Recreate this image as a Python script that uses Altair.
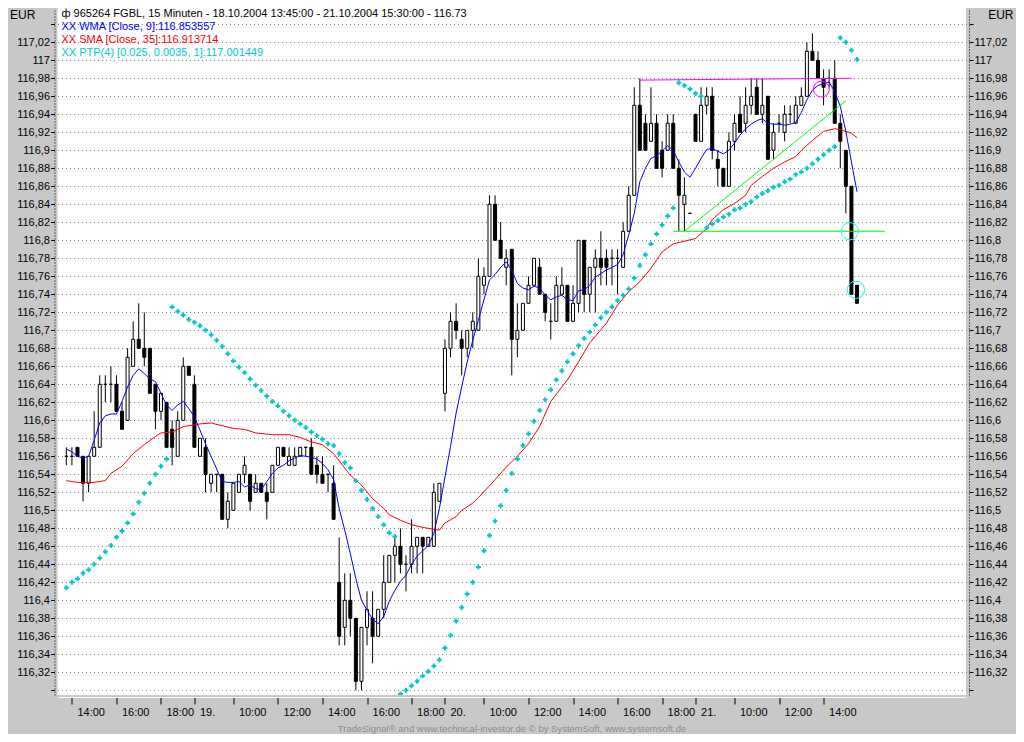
import altair as alt
import pandas as pd

# ---------------- data ----------------
bar_open = [116.56, 116.56, 116.57, 116.56, 116.53, 116.56, 116.57, 116.64, 116.64, 116.64,
            116.61, 116.60, 116.66, 116.69, 116.68, 116.68, 116.64, 116.61, 116.62, 116.59,
            116.56, 116.60, 116.66, 116.64, 116.56, 116.57, 116.53, 116.54, 116.54, 116.49,
            116.50, 116.52, 116.54, 116.54, 116.52, 116.53, 116.52, 116.52, 116.55, 116.57,
            116.55, 116.55, 116.56, 116.57, 116.57, 116.55, 116.54, 116.54, 116.53, 116.42,
            116.37, 116.40, 116.38, 116.31, 116.37, 116.38, 116.36, 116.39, 116.42, 116.45,
            116.46, 116.44, 116.44, 116.46, 116.47, 116.46, 116.46, 116.51, 116.63, 116.68,
            116.71, 116.69, 116.68, 116.70, 116.70, 116.75, 116.76, 116.84, 116.80, 116.77,
            116.79, 116.69, 116.70, 116.73, 116.75, 116.77, 116.74, 116.71, 116.71, 116.74,
            116.75, 116.71, 116.73, 116.80, 116.74, 116.77, 116.78, 116.78, 116.78, 116.78,
            116.77, 116.81, 116.85, 116.95, 116.93, 116.91, 116.93, 116.90, 116.90, 116.93,
            116.88, 116.84, 116.83, 116.94, 116.91, 116.95, 116.96, 116.89, 116.88, 116.86,
            116.91, 116.94, 116.93, 116.95, 116.97, 116.94, 116.96, 116.90, 116.93, 116.92,
            116.94, 116.93, 116.95, 116.96, 117.01, 117.00, 116.98, 116.98, 116.98, 116.93,
            116.90, 116.86, 116.75]
bar_high = [116.57, 116.57, 116.57, 116.56, 116.56, 116.61, 116.65, 116.65, 116.66, 116.65,
            116.62, 116.68, 116.71, 116.73, 116.72, 116.68, 116.64, 116.63, 116.62, 116.60,
            116.61, 116.67, 116.66, 116.65, 116.58, 116.58, 116.54, 116.54, 116.54, 116.52,
            116.53, 116.54, 116.56, 116.54, 116.54, 116.53, 116.53, 116.55, 116.57, 116.57,
            116.57, 116.57, 116.57, 116.57, 116.58, 116.56, 116.56, 116.54, 116.55, 116.47,
            116.43, 116.43, 116.38, 116.37, 116.41, 116.41, 116.39, 116.45, 116.45, 116.47,
            116.48, 116.45, 116.49, 116.47, 116.47, 116.47, 116.53, 116.53, 116.69, 116.72,
            116.73, 116.70, 116.70, 116.72, 116.78, 116.77, 116.85, 116.85, 116.82, 116.79,
            116.79, 116.73, 116.73, 116.76, 116.78, 116.78, 116.74, 116.73, 116.76, 116.77,
            116.75, 116.75, 116.80, 116.80, 116.77, 116.79, 116.81, 116.79, 116.79, 116.79,
            116.82, 116.86, 116.97, 116.98, 116.94, 116.97, 116.94, 116.91, 116.94, 116.94,
            116.89, 116.87, 116.83, 116.94, 116.97, 116.97, 116.97, 116.90, 116.88, 116.92,
            116.94, 116.96, 116.97, 116.98, 116.98, 116.98, 116.96, 116.93, 116.94, 116.95,
            116.95, 116.96, 116.97, 117.02, 117.03, 117.01, 116.99, 116.99, 117.00, 116.94,
            116.90, 116.86, 116.75]
bar_low = [116.55, 116.55, 116.56, 116.51, 116.52, 116.56, 116.57, 116.62, 116.62, 116.61,
           116.59, 116.60, 116.66, 116.68, 116.66, 116.63, 116.59, 116.60, 116.57, 116.55,
           116.56, 116.60, 116.65, 116.57, 116.56, 116.52, 116.52, 116.52, 116.49, 116.48,
           116.50, 116.52, 116.53, 116.50, 116.52, 116.52, 116.49, 116.52, 116.55, 116.56,
           116.55, 116.55, 116.56, 116.56, 116.54, 116.53, 116.53, 116.52, 116.49, 116.35,
           116.35, 116.36, 116.30, 116.30, 116.35, 116.33, 116.36, 116.38, 116.42, 116.42,
           116.43, 116.41, 116.43, 116.43, 116.43, 116.46, 116.46, 116.51, 116.61, 116.67,
           116.69, 116.65, 116.67, 116.68, 116.70, 116.74, 116.76, 116.80, 116.78, 116.75,
           116.65, 116.67, 116.70, 116.73, 116.75, 116.74, 116.71, 116.69, 116.71, 116.74,
           116.71, 116.71, 116.72, 116.72, 116.72, 116.72, 116.75, 116.75, 116.75, 116.74,
           116.77, 116.81, 116.85, 116.90, 116.90, 116.91, 116.88, 116.87, 116.90, 116.88,
           116.81, 116.81, 116.83, 116.91, 116.91, 116.94, 116.89, 116.86, 116.86, 116.86,
           116.90, 116.92, 116.92, 116.94, 116.94, 116.93, 116.89, 116.89, 116.92, 116.91,
           116.93, 116.93, 116.95, 116.96, 117.00, 116.98, 116.95, 116.97, 116.93, 116.88,
           116.83, 116.74, 116.73]
bar_close = [116.56, 116.56, 116.56, 116.53, 116.56, 116.57, 116.64, 116.64, 116.64, 116.61,
             116.59, 116.67, 116.69, 116.68, 116.67, 116.63, 116.61, 116.63, 116.57, 116.57,
             116.60, 116.66, 116.65, 116.57, 116.58, 116.54, 116.54, 116.54, 116.49, 116.51,
             116.53, 116.54, 116.55, 116.51, 116.53, 116.52, 116.51, 116.55, 116.57, 116.56,
             116.56, 116.56, 116.57, 116.57, 116.54, 116.54, 116.53, 116.54, 116.49, 116.36,
             116.40, 116.38, 116.31, 116.37, 116.39, 116.36, 116.39, 116.42, 116.45, 116.46,
             116.44, 116.44, 116.46, 116.47, 116.46, 116.47, 116.52, 116.53, 116.68, 116.71,
             116.70, 116.68, 116.70, 116.71, 116.76, 116.76, 116.84, 116.80, 116.78, 116.78,
             116.69, 116.70, 116.73, 116.75, 116.78, 116.74, 116.72, 116.71, 116.75, 116.75,
             116.71, 116.73, 116.80, 116.74, 116.77, 116.78, 116.77, 116.77, 116.78, 116.78,
             116.81, 116.85, 116.95, 116.90, 116.90, 116.93, 116.88, 116.88, 116.93, 116.88,
             116.85, 116.85, 116.83, 116.91, 116.95, 116.96, 116.90, 116.88, 116.86, 116.91,
             116.93, 116.92, 116.95, 116.96, 116.94, 116.95, 116.89, 116.92, 116.93, 116.94,
             116.94, 116.95, 116.96, 117.01, 117.00, 116.98, 116.97, 116.98, 116.93, 116.91,
             116.86, 116.74, 116.73]
wma9 = [116.568, 116.565, 116.560, 116.558, 116.560, 116.578, 116.597, 116.605, 116.607, 116.607,
        116.621, 116.637, 116.650, 116.657, 116.652, 116.646, 116.643, 116.630, 116.617, 116.611,
        116.617, 116.621, 116.613, 116.604, 116.589, 116.574, 116.560, 116.546, 116.532, 116.531,
        116.531, 116.532, 116.526, 116.528, 116.524, 116.523, 116.532, 116.541, 116.547, 116.550,
        116.555, 116.558, 116.561, 116.560, 116.559, 116.557, 116.552, 116.545, 116.534, 116.502,
        116.478, 116.452, 116.424, 116.400, 116.389, 116.379, 116.374, 116.382, 116.399, 116.411,
        116.421, 116.428, 116.440, 116.449, 116.455, 116.461, 116.474, 116.502, 116.537, 116.571,
        116.608, 116.637, 116.665, 116.689, 116.711, 116.734, 116.756, 116.762, 116.770, 116.776,
        116.767, 116.752, 116.747, 116.745, 116.749, 116.747, 116.739, 116.734, 116.737, 116.739,
        116.734, 116.733, 116.744, 116.745, 116.750, 116.759, 116.763, 116.767, 116.770, 116.773,
        116.784, 116.806, 116.830, 116.865, 116.880, 116.891, 116.894, 116.899, 116.905, 116.900,
        116.887, 116.876, 116.870, 116.880, 116.891, 116.901, 116.902, 116.899, 116.896, 116.900,
        116.908, 116.917, 116.924, 116.929, 116.933, 116.935, 116.930, 116.929, 116.929, 116.928,
        116.929, 116.931, 116.942, 116.956, 116.967, 116.972, 116.974, 116.976, 116.965, 116.949,
        116.921, 116.887, 116.854]
ptp4 = [116.414, 116.420, 116.424, 116.430, 116.434, 116.440, 116.447, 116.454, 116.461, 116.470,
        116.477, 116.486, 116.496, 116.509, 116.519, 116.530, 116.540, 116.549, 116.557, 116.726,
        116.721, 116.717, 116.712, 116.709, 116.705, 116.700, 116.695, 116.689, 116.682, 116.674,
        116.666, 116.659, 116.653, 116.646, 116.639, 116.633, 116.627, 116.621, 116.616, 116.610,
        116.605, 116.600, 116.596, 116.592, 116.587, 116.583, 116.579, 116.574, 116.572, 116.563,
        116.553, 116.547, 116.533, 116.522, 116.512, 116.502, 116.493, 116.484, 116.475, 116.471,
        116.296, 116.300, 116.305, 116.310, 116.316, 116.321, 116.327, 116.334, 116.347, 116.361,
        116.377, 116.392, 116.407, 116.420, 116.437, 116.455, 116.472, 116.488, 116.505, 116.522,
        116.541, 116.557, 116.572, 116.585, 116.599, 116.611, 116.623, 116.634, 116.645, 116.655,
        116.665, 116.674, 116.683, 116.691, 116.698, 116.706, 116.714, 116.720, 116.726, 116.733,
        116.739, 116.746, 116.758, 116.772, 116.784, 116.796, 116.807, 116.817, 116.827, 116.836,
        116.975, 116.972, 116.968, 116.963, 116.960, 116.814, 116.818, 116.822, 116.826, 116.829,
        116.834, 116.836, 116.840, 116.843, 116.848, 116.852, 116.855, 116.859, 116.861, 116.865,
        116.868, 116.873, 116.876, 116.880, 116.885, 116.890, 116.895, 116.900, 116.904, 117.025,
        117.020, 117.011, 117.001]
sma_bars = [0, 2, 5, 7, 8, 10, 12, 14, 16, 17, 19, 21, 23, 24, 26, 28, 30, 32, 34, 37, 40, 42,
            44, 46, 48, 50, 51, 53, 55, 57, 58, 60, 62, 64, 65, 67, 68, 70, 71, 73, 74, 77, 79,
            81, 83, 85, 87, 90, 92, 94, 97, 99, 101, 103, 105, 107, 109, 111, 113, 115, 116,
            118, 120, 122, 123, 125, 127, 129, 131, 132, 134, 136, 138, 139, 141, 142]
sma35 = [116.533, 116.531, 116.531, 116.533, 116.541, 116.549, 116.563, 116.573, 116.582, 116.586,
         116.587, 116.593, 116.595, 116.596, 116.597, 116.594, 116.591, 116.590, 116.586, 116.584,
         116.584, 116.581, 116.576, 116.573, 116.563, 116.547, 116.539, 116.528, 116.513, 116.502,
         116.495, 116.489, 116.484, 116.481, 116.480, 116.478, 116.486, 116.493, 116.500, 116.508,
         116.514, 116.534, 116.548, 116.560, 116.574, 116.593, 116.621, 116.645, 116.665, 116.686,
         116.708, 116.728, 116.743, 116.754, 116.769, 116.787, 116.796, 116.799, 116.802, 116.813,
         116.823, 116.834, 116.841, 116.850, 116.861, 116.871, 116.880, 116.887, 116.893, 116.900,
         116.911, 116.921, 116.924, 116.923, 116.919, 116.914]

# drawn annotation lines / circles (bar index, price)
resist_bars = [103, 141]
resist_vals = [116.978, 116.980]
support_bars = [109, 147]
support_vals = [116.81, 116.81]
trend_bars = [111, 140]
trend_vals = [116.81, 116.955]
mag_circle_bars = [135.6]
mag_circle_vals = [116.968]
cyan_circle_bars = [140.7, 141.8]
cyan_circle_vals = [116.81, 116.745]

tick_bars = [1, 9, 17, 23, 30, 38, 46, 54, 62, 68, 75, 83, 91, 99, 107, 113, 120, 128, 136]
tick_labels = ["14:00", "16:00", "18:00", "19.", "10:00", "12:00", "14:00", "16:00", "18:00",
               "20.", "10:00", "12:00", "14:00", "16:00", "18:00", "21.", "10:00", "12:00", "14:00"]
grid_vals = [round(116.30 + 0.02 * k, 2) for k in range(38)]
label_vals = [round(116.32 + 0.02 * k, 2) for k in range(36)]

header_lines = [
    "ф  965264  FGBL, 15 Minuten - 18.10.2004 13:45:00 - 21.10.2004 15:30:00 - 116.73",
    "XX WMA [Close, 9]:116.853557",
    "XX SMA [Close, 35]:116.913714",
    "XX PTP(4) [0.025, 0.0035, 1]:117.001449",
]
footer_text = "TradeSignal® and www.technical-investor.de © by SystemSoft, www.systemsoft.de"

# ---------------- chart ----------------
df = pd.DataFrame({"i": list(range(len(bar_close))), "o": bar_open, "h": bar_high,
                   "l": bar_low, "c": bar_close, "wma": wma9, "ptp": ptp4})
sma_df = pd.DataFrame({"i": sma_bars, "v": sma35})

FONT = "Liberation Sans"
Y_DOMAIN = [116.2948, 117.0581]
X_DOMAIN = [-0.69, 160.68]
xs = alt.Scale(domain=X_DOMAIN, nice=False, zero=False)


def ys():
    return alt.Scale(domain=Y_DOMAIN, nice=False, zero=False)


ylab = "(datum.value < 116.31 || datum.value > 117.03) ? '' : replace(format(datum.value, '.2~f'), '.', ',')"
xlab = ("[" + ",".join(repr(s) for s in tick_labels) + "][indexof(["
        + ",".join(str(v) for v in tick_bars) + "], datum.value)]")

x_axis = alt.Axis(values=tick_bars, labelExpr=xlab, title=None, grid=False, orient="bottom",
                  offset=2, tickSize=7, tickColor="black", tickWidth=1, domainColor="white",
                  domainWidth=1, labelAlign="left", labelOffset=5, labelBaseline="middle",
                  labelPadding=8, labelFont=FONT, labelFontSize=11, labelColor="black",
                  labelOverlap=False, labelFlush=False, labelBound=False)

common_y = dict(ticks=True, tickSize=4, tickColor="black", tickWidth=1, offset=3, domain=True,
                domainColor="black", domainDash=[1, 2], domainWidth=1, labelPadding=1,
                labelFont=FONT, labelFontSize=11, labelColor="black", labelOverlap=False,
                labelFlush=False, labelBound=False, labelExpr=ylab, title="EUR", titleAngle=0,
                titleY=6, titleBaseline="middle", titleFont=FONT, titleFontSize=12,
                titleFontWeight="normal", titleColor="black")

left_axis = alt.Axis(orient="left", values=grid_vals, grid=True, gridColor="#808080",
                     gridDash=[1, 3], gridWidth=1, gridOpacity=1, titleX=-45,
                     titleAlign="left", **common_y)
right_axis = alt.Axis(orient="right", values=grid_vals, grid=False, titleX=44,
                      titleAlign="right", **common_y)

X = alt.X("i:Q", scale=xs)

wicks = alt.Chart(df).mark_rule(color="black", strokeWidth=1).encode(
    x=alt.X("i:Q", scale=xs, axis=x_axis),
    y=alt.Y("l:Q", scale=ys(), axis=left_axis),
    y2="h:Q",
)
bodies = alt.Chart(df).mark_bar(size=3, stroke="black", strokeWidth=1).encode(
    x=X,
    y=alt.Y("o:Q", scale=ys(), axis=right_axis),
    y2="c:Q",
    fill=alt.condition("datum.c < datum.o", alt.value("black"), alt.value("white")),
)
sma_line = alt.Chart(sma_df).mark_line(color="#ff0000", strokeWidth=1, clip=True).encode(
    x=X, y=alt.Y("v:Q", scale=ys(), axis=None))
wma_line = alt.Chart(df).mark_line(color="#0000ff", strokeWidth=1, clip=True).encode(
    x=X, y=alt.Y("wma:Q", scale=ys(), axis=None))
ptp_pts = alt.Chart(df).mark_point(shape="cross", filled=True, size=24, color="#00c8c8",
                                   opacity=1, clip=True).encode(
    x=X, y=alt.Y("ptp:Q", scale=ys(), axis=None))

resist = alt.Chart(pd.DataFrame({"i": resist_bars, "v": resist_vals})).mark_line(
    color="#ff00ff", strokeWidth=1).encode(x=X, y=alt.Y("v:Q", scale=ys(), axis=None))
support = alt.Chart(pd.DataFrame({"i": support_bars, "v": support_vals})).mark_line(
    color="#00ff00", strokeWidth=1).encode(x=X, y=alt.Y("v:Q", scale=ys(), axis=None))
trend = alt.Chart(pd.DataFrame({"i": trend_bars, "v": trend_vals})).mark_line(
    color="#00ff00", strokeWidth=1).encode(x=X, y=alt.Y("v:Q", scale=ys(), axis=None))
mag_circle = alt.Chart(pd.DataFrame({"i": mag_circle_bars, "v": mag_circle_vals})).mark_point(
    shape="circle", filled=False, size=254, color="#ff00ff", strokeWidth=1, opacity=1).encode(
    x=X, y=alt.Y("v:Q", scale=ys(), axis=None))
cyan_circles = alt.Chart(pd.DataFrame({"i": cyan_circle_bars, "v": cyan_circle_vals})).mark_point(
    shape="circle", filled=False, size=300, color="#00ffff", strokeWidth=1, opacity=1).encode(
    x=X, y=alt.Y("v:Q", scale=ys(), axis=None))

header_colors = ["black", "#0000ff", "#ff0000", "#00c8c8"]
header_y = [6, 19, 32, 45]
headers = []
for k, line in enumerate(header_lines):
    headers.append(
        alt.Chart(pd.DataFrame({"t": [line]})).mark_text(
            align="left", baseline="middle", font=FONT, fontSize=11, color=header_colors[k]
        ).encode(x=alt.value(4), y=alt.value(header_y[k]), text="t:N")
    )
footer = alt.Chart(pd.DataFrame({"t": [footer_text]})).mark_text(
    align="center", baseline="middle", font=FONT, fontSize=9.5, color="#8c8c8c"
).encode(x=alt.value(454.5), y=alt.value(721), text="t:N")

chart = alt.layer(
    wicks, bodies, sma_line, wma_line, ptp_pts, resist, support, trend, mag_circle,
    cyan_circles, *headers, footer
).resolve_scale(y="independent").properties(
    width=908.5, height=687, background="#c8c8c8",
    padding={"left": 49.5, "top": 0, "right": 50, "bottom": 39},
    autosize=alt.AutoSizeParams(type="none"),
).configure_view(fill="white", strokeWidth=0)

chart.save("out.html", embed_options={"renderer": "svg", "actions": False})
